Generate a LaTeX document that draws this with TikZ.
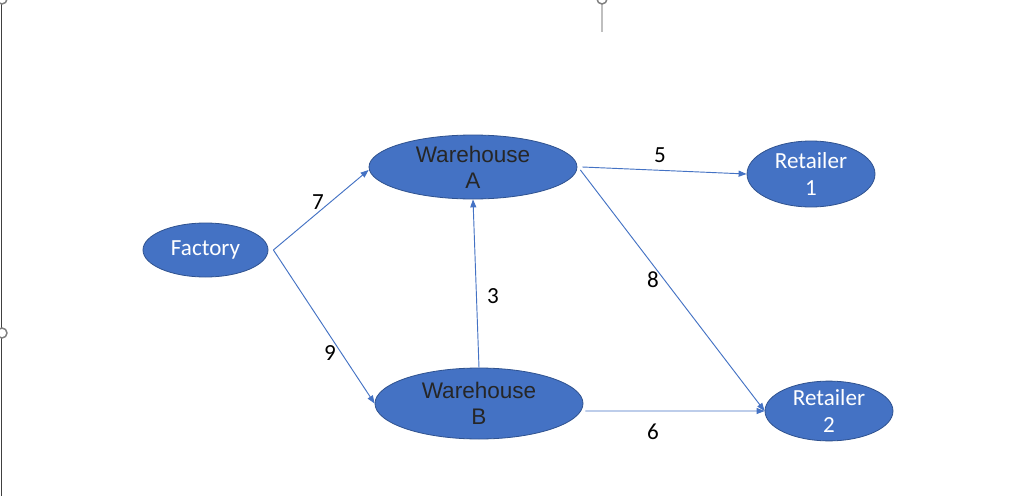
\documentclass[tikz,border=0pt]{standalone}
\usepackage{fontspec}
\usepackage{xcolor}
\usepackage{tikz}
\usetikzlibrary{shapes,arrows.meta,positioning,calc}
\newfontfamily\calib{Carlito}
\newfontfamily\arialf{Liberation Sans}
\definecolor{netblue}{RGB}{68,114,196}
\definecolor{netedge}{RGB}{47,82,143}
\definecolor{whtext}{RGB}{38,38,38}
\tikzset{
    site/.style={ellipse, draw=netedge, line width=0.6pt, fill=netblue, inner sep=0pt, align=center},
    retail/.style={site, text=white, font=\calib\fontsize{17.3}{19.7}\selectfont},
    store/.style={site, text=whtext, font=\arialf\fontsize{16.9}{19.7}\selectfont},
    flow/.style={draw=netblue, line width=0.7pt, -{Triangle[length=6pt, width=4.5pt]}},
    cost/.style={font=\calib\fontsize{17.3}{19}\selectfont, text=black, inner sep=0pt},
    handle/.style={draw=gray, line width=1.1pt, fill=white}
}
\begin{document}
\begin{tikzpicture}[x=0.75pt, y=-0.75pt]
    \useasboundingbox [fill=white] (0,0) rectangle (1022,496);

    % Frame
    \draw [black!75, line width=1.1pt] (1.5,0) -- (1.5,496);
    \draw [black!25, line width=1.1pt] (602,0) -- (602,32);
    \draw [handle] (2,-1) circle [radius=5];
    \draw [handle] (602,-1) circle [radius=5];
    \draw [handle] (2,333) circle [radius=5];

    % Nodes
    \node [retail, minimum width=93.75pt, minimum height=40.5pt] (fac) at (205.5,250) {Factory};
    \node [store, minimum width=156pt, minimum height=48pt] (wa) at (473,167) {Warehouse\\A};
    \node [store, minimum width=156pt, minimum height=53.25pt] (wb) at (479,403.5) {Warehouse\\B};
    \node [retail, minimum width=96pt, minimum height=49.5pt] (ra) at (811,174) {Retailer\\1};
    \node [retail, minimum width=96pt, minimum height=42pt] (rb) at (829,411) {Retailer\\2};

    % Connections
    \path [flow] ([xshift=3.75pt]fac.east) -- ([yshift=-2.25pt]wa.west);
    \path [flow] ([xshift=3.75pt]fac.east) -- (wb.west);
    \path [flow] (wb.north) -- (wa.south);
    \path [flow] ([xshift=3.75pt]wa.east) -- (ra.west);
    \path [flow] ([xshift=2.25pt, yshift=-2.25pt]wa.east) -- (rb.west);
    \path [flow] ([xshift=1.5pt, yshift=-5.6pt]wb.east) -- (rb.west);

    % Costs
    \node [cost] (c7) at (318,202) {7};
    \node [cost] (c9) at (330,353) {9};
    \node [cost] (c3) at (493,296) {3};
    \node [cost] (c5) at (660,155) {5};
    \node [cost] (c8) at (653,280) {8};
    \node [cost] (c6) at (653,432) {6};
\end{tikzpicture}
\end{document}
